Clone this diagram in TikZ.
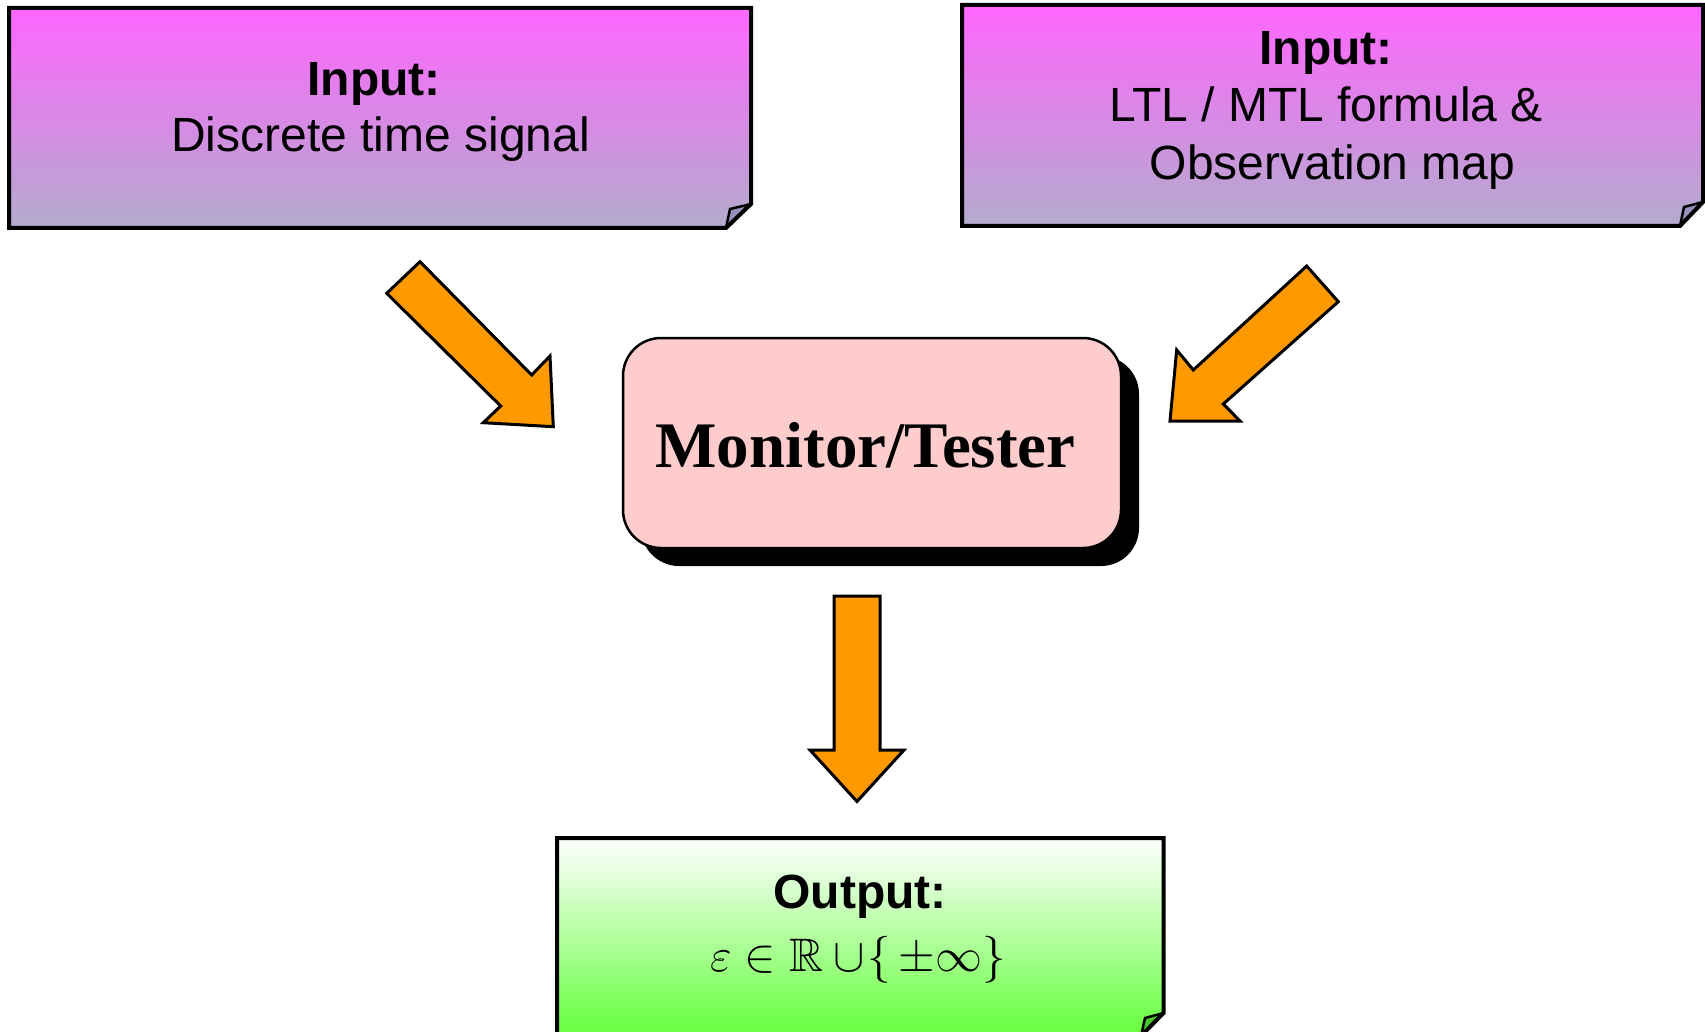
\RequirePackage{fix-cm}
\documentclass[tikz,border=0pt]{standalone}
\usepackage{fontspec}
\setmainfont{Liberation Sans}
\newfontfamily\titlefont{Liberation Serif}
\usepackage{amssymb}

\definecolor{notetop}{RGB}{255,102,255}
\definecolor{notebottom}{RGB}{178,172,204}
\definecolor{flapfill}{RGB}{150,144,186}
\definecolor{outtop}{RGB}{255,255,255}
\definecolor{outbottom}{RGB}{100,255,60}
\definecolor{outflap}{RGB}{70,200,40}
\definecolor{monitorfill}{RGB}{255,204,204}
\definecolor{arrowfill}{RGB}{255,153,0}

\tikzset{
  noteborder/.style={draw=black, line width=4pt, line join=miter},
  flap/.style={draw=black, line width=2.5pt, line join=miter},
  blockarrow/.style={fill=arrowfill, draw=black, line width=3pt, line join=miter},
  notetext/.style={anchor=base, inner sep=0pt, font=\fontsize{48}{56}\selectfont},
  notehead/.style={notetext, font=\fontsize{48}{56}\selectfont\bfseries},
}

\begin{document}
\begin{tikzpicture}[x=1pt, y=-1pt]
\useasboundingbox (0,0) rectangle (1705,1032);

% --- input note: signal ---
\shade[top color=notetop, bottom color=notebottom]
  (9,8) -- (751,8) -- (751,204) -- (726,228) -- (9,228) -- cycle;
\fill[flapfill] (726,228) -- (730,209) -- (751,204) -- cycle;
\draw[flap] (726,228) -- (730,209) -- (751,204);
\draw[noteborder] (9,8) -- (751,8) -- (751,204) -- (726,228) -- (9,228) -- cycle;
\node[notehead] (inAhead) at (374,95.7) {Input:};
\node[notetext] (inAbody) at (380.5,152) {Discrete time signal};

% --- input note: formula ---
\shade[top color=notetop, bottom color=notebottom]
  (962,5) -- (1703,5) -- (1703,202) -- (1680,226) -- (962,226) -- cycle;
\fill[flapfill] (1680,226) -- (1684,207) -- (1703,202) -- cycle;
\draw[flap] (1680,226) -- (1684,207) -- (1703,202);
\draw[noteborder] (962,5) -- (1703,5) -- (1703,202) -- (1680,226) -- (962,226) -- cycle;
\node[notehead] (inBhead) at (1326,65) {Input:};
\node[notetext] (inBline1) at (1326,122) {LTL / MTL formula \&};
\node[notetext] (inBline2) at (1332.5,179.4) {Observation map};

% --- monitor box with solid shadow ---
\fill[black, rounded corners=38pt] (641,356) rectangle (1139,566);
\node[draw=black, line width=2.5pt, fill=monitorfill, rounded corners=38pt,
      minimum width=498pt, minimum height=210pt, inner sep=0pt]
  (mon) at (872,443) {};
\node[anchor=base, inner sep=0pt,
      font=\titlefont\bfseries\fontsize{65}{70}\selectfont]
  (monlabel) at (865.5,467.6) {Monitor/Tester};

% --- block arrows ---
\draw[blockarrow] (386.7,293.3) -- (420,261.7) -- (531.7,375) -- (550,356)
  -- (553.3,426.7) -- (483.3,422.7) -- (500.7,406) -- cycle;
\draw[blockarrow] (1306.7,266) -- (1338.3,301.7) -- (1223.3,404) -- (1240,421)
  -- (1170,421) -- (1176.7,350) -- (1193.3,370) -- cycle;
\draw[blockarrow] (834,596) -- (880,596) -- (880,750) -- (904,750)
  -- (857,801.5) -- (810,750) -- (834,750) -- cycle;

% --- output note ---
\shade[top color=outtop, bottom color=outbottom]
  (557,838) -- (1163.5,838) -- (1163.5,1013) -- (1141,1036) -- (557,1036) -- cycle;
\fill[outflap] (1141,1036) -- (1145,1018) -- (1163.5,1013) -- cycle;
\draw[flap] (1141,1036) -- (1145,1018) -- (1163.5,1013);
\draw[noteborder] (557,838) -- (1163.5,838) -- (1163.5,1013) -- (1141,1036) -- (557,1036) -- cycle;
\node[notehead] (outhead) at (860,908) {Output:};
\node[notetext] (outbody) at (858,971)
  {\fontsize{47}{56}\selectfont$\varepsilon \in \mathbb{R} \cup\!\{\,\pm\infty\}$};
\end{tikzpicture}
\end{document}
